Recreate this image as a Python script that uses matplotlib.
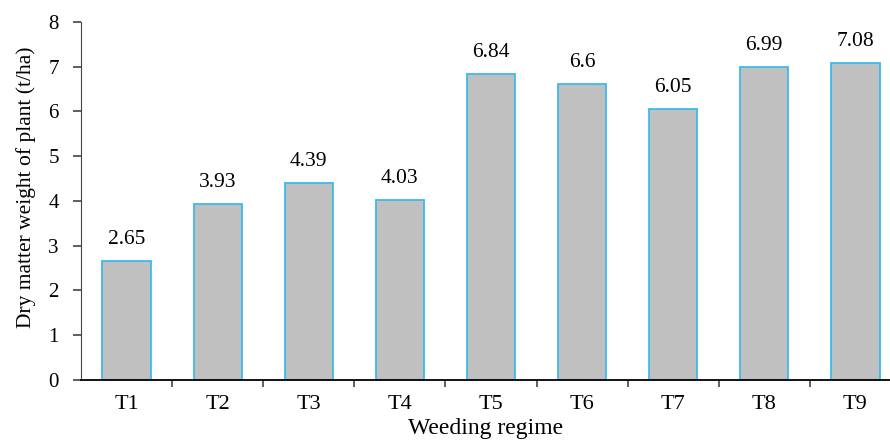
import matplotlib.pyplot as plt

treatments = ["T1", "T2", "T3", "T4", "T5", "T6", "T7", "T8", "T9"]
dry_matter = [2.65, 3.93, 4.39, 4.03, 6.84, 6.6, 6.05, 6.99, 7.08]
value_labels = ["2.65", "3.93", "4.39", "4.03", "6.84", "6.6", "6.05", "6.99", "7.08"]

plt.rcParams["font.family"] = ["Liberation Serif", "DejaVu Serif"]

fig = plt.figure(figsize=(8.9, 4.45), dpi=100)
ax = fig.add_axes([0.091, 0.146, 0.909, 0.805])

x = list(range(len(treatments)))
ax.bar(x, dry_matter, width=0.53, color="#c0c0c0", edgecolor="#3cbbea", linewidth=1.3)
for xi, v, lab in zip(x, dry_matter, value_labels):
    ax.text(xi, v + 0.38, lab, ha="center", va="baseline", fontsize=15.5)

ax.set_xlim(-0.5, 8.38)
ax.set_ylim(0, 8)
ax.set_yticks(range(0, 9))
# category boundaries carry the tick marks, names sit between them
ax.set_xticks([i + 0.5 for i in range(8)])
ax.set_xticklabels([])
ax.set_xticks(x, minor=True)
ax.set_xticklabels(treatments, minor=True)
ax.tick_params(axis="x", which="minor", length=0, labelsize=16, pad=11)
ax.tick_params(axis="x", which="major", length=5, width=1.2, color="#444444")
ax.tick_params(axis="y", length=6, width=1.2, labelsize=15, pad=10, color="#444444")
ax.spines["top"].set_visible(False)
ax.spines["right"].set_visible(False)
ax.spines["left"].set_color("#444444")
ax.spines["bottom"].set_linewidth(1.3)
ax.set_ylabel("Dry matter weight of plant (t/ha)", fontsize=15.5, labelpad=9)
ax.yaxis.label.set_y(0.538)
ax.set_xlabel("Weeding regime", fontsize=17, labelpad=3)

fig.savefig("out.png", dpi=100)
